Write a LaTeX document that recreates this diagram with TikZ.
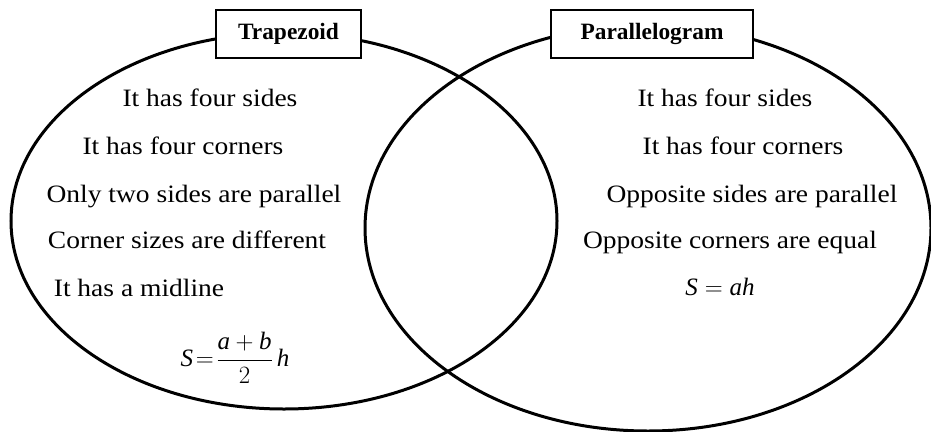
\documentclass[tikz,border=0pt]{standalone}
\usepackage{fontspec}
\setmainfont{Liberation Serif}
\newfontfamily\bodyfont[FakeStretch=1.1]{Liberation Serif}
\usetikzlibrary{shapes.geometric}
\tikzset{
  venn/.style={draw=black, line width=3pt, ellipse, inner sep=0pt, outer sep=0pt},
  titlebox/.style={draw=black, fill=white, line width=1.4pt, inner sep=0pt,
    minimum height=48pt, font=\fontsize{23.4}{26}\selectfont\bfseries},
  item/.style={anchor=base, inner sep=0pt, font=\fontsize{25}{28}\bodyfont},
  formula/.style={inner sep=0pt, font=\fontsize{25}{28}\selectfont}
}
\begin{document}
\begin{tikzpicture}[x=1pt,y=-1pt]
\useasboundingbox (0,0) rectangle (931,431);
\node[venn, minimum width=546pt, minimum height=376pt] (L) at (284,221) {};
\node[venn, minimum width=566pt, minimum height=406pt] (R) at (648,228) {};
\node[titlebox, minimum width=145pt] (t1) at (288.5,34) {Trapezoid};
\node[titlebox, minimum width=202pt] (t2) at (652,34) {Parallelogram};
% left texts
\node[item] (l1) at (210,106) {It has four sides};
\node[item] (l2) at (183,154) {It has four corners};
\node[item] (l3) at (194,202) {Only two sides are parallel};
\node[item] (l4) at (187,248) {Corner sizes are different};
\node[item] (l5) at (139,296) {It has a midline};
\node[formula] (l6) at (235,358) {$\displaystyle \mathit{S}\!=\!\frac{\mathit{a}+\mathit{b}}{2}\,\mathit{h}$};
% right texts
\node[item] (r1) at (725,106) {It has four sides};
\node[item] (r2) at (743,154) {It has four corners};
\node[item] (r3) at (752,202) {Opposite sides are parallel};
\node[item] (r4) at (730,248) {Opposite corners are equal};
\node[item, font=\fontsize{25}{28}\selectfont] (r5) at (720,295) {$\mathit{S}=\mathit{ah}$};
\end{tikzpicture}
\end{document}
